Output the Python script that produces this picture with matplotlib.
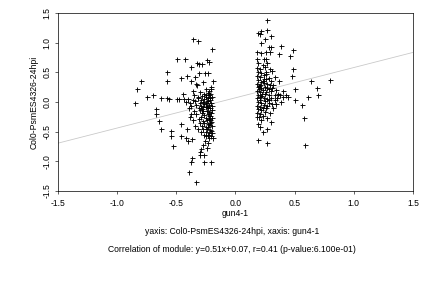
import numpy as np
import matplotlib
matplotlib.use("Agg")
import matplotlib.pyplot as plt

# =========================
# Data
# =========================
# sparse points around the left cluster (gun4-1, Col0-PsmES4326-24hpi)
left_sparse = [
    (-0.847, -0.01), (-0.83, 0.22), (-0.80, 0.36), (-0.746, 0.09), (-0.70, 0.125),
    (-0.667, -0.12), (-0.672, -0.20), (-0.644, -0.32), (-0.633, -0.45), (-0.627, 0.07),
    (-0.58, 0.07), (-0.58, 0.50), (-0.58, 0.35), (-0.565, 0.05), (-0.548, -0.49),
    (-0.548, -0.57), (-0.525, -0.74), (-0.497, 0.72), (-0.49, 0.045), (-0.475, 0.057),
    (-0.458, 0.40), (-0.463, -0.375), (-0.46, -0.57), (-0.44, 0.14), (-0.435, 0.045),
    (-0.424, 0.72), (-0.418, -0.60), (-0.41, -0.46), (-0.407, 0.43), (-0.40, -0.65),
    (-0.395, -1.18), (-0.378, 0.59), (-0.378, 0.36), (-0.373, -0.20), (-0.367, -0.63),
    (-0.362, 1.06), (-0.356, 0.19), (-0.378, -1.01), (-0.367, -0.94), (-0.345, 0.42),
    (-0.333, -1.35), (-0.328, 0.28), (-0.322, 0.65), (-0.316, 1.03), (-0.31, 0.49),
    (-0.305, 0.64), (-0.30, -0.90), (-0.294, -0.80), (-0.28, 0.64), (-0.277, 0.335),
    (-0.266, -1.01), (-0.266, -0.90), (-0.26, 0.48), (-0.254, -0.66), (-0.25, -0.57),
    (-0.243, 0.70), (-0.237, -0.77), (-0.232, 0.49), (-0.226, 0.68), (-0.22, -0.61),
    (-0.21, 0.25), (-0.203, -1.01), (-0.198, 0.90), (-0.198, -0.52), (-0.192, -0.61),
    (-0.186, 0.36), (-0.30, -0.85), (-0.27, -0.72), (-0.23, -0.70), (-0.33, 0.30),
]

# dense band of the left cluster
left_dense = [
    (-0.25, 0.21), (-0.22, 0.19), (-0.205, 0.22), (-0.30, 0.16), (-0.262, 0.14),
    (-0.232, 0.15), (-0.212, 0.13), (-0.35, 0.11), (-0.318, 0.09), (-0.283, 0.10),
    (-0.248, 0.08), (-0.222, 0.11), (-0.20, 0.09), (-0.40, 0.05), (-0.362, 0.04),
    (-0.313, 0.06), (-0.292, 0.03), (-0.262, 0.05), (-0.242, 0.02), (-0.213, 0.06),
    (-0.42, 0.00), (-0.382, -0.01), (-0.343, 0.01), (-0.302, -0.02), (-0.272, 0.00),
    (-0.252, -0.01), (-0.232, 0.01), (-0.208, -0.02), (-0.372, -0.06), (-0.332, -0.05),
    (-0.292, -0.07), (-0.262, -0.04), (-0.242, -0.06), (-0.222, -0.05), (-0.200, -0.07),
    (-0.392, -0.11), (-0.312, -0.10), (-0.282, -0.12), (-0.252, -0.09), (-0.232, -0.11),
    (-0.212, -0.10), (-0.352, -0.16), (-0.302, -0.14), (-0.272, -0.16), (-0.242, -0.15),
    (-0.222, -0.17), (-0.200, -0.14), (-0.332, -0.21), (-0.282, -0.19), (-0.262, -0.22),
    (-0.232, -0.20), (-0.212, -0.23), (-0.382, -0.26), (-0.292, -0.25), (-0.252, -0.27),
    (-0.222, -0.24), (-0.202, -0.27), (-0.362, -0.31), (-0.312, -0.29), (-0.272, -0.32),
    (-0.242, -0.30), (-0.212, -0.31), (-0.302, -0.36), (-0.262, -0.35), (-0.232, -0.37),
    (-0.210, -0.34), (-0.342, -0.41), (-0.282, -0.40), (-0.252, -0.42), (-0.222, -0.39),
    (-0.200, -0.41), (-0.272, -0.46), (-0.242, -0.45), (-0.212, -0.47), (-0.292, -0.51),
    (-0.252, -0.50), (-0.222, -0.52), (-0.262, -0.56), (-0.232, -0.55), (-0.210, -0.57),
    (-0.215, 0.03), (-0.225, -0.28), (-0.205, -0.19), (-0.235, -0.43), (-0.245, 0.12),
    (-0.275, -0.08), (-0.215, -0.36), (-0.228, 0.07), (-0.205, -0.49), (-0.32, -0.45),
]

# sparse points around the right cluster
right_sparse = [
    (0.264, 1.386), (0.19, 1.16), (0.22, 1.20), (0.264, 1.216), (0.205, 1.14),
    (0.25, 1.06), (0.30, 1.11), (0.216, 0.99), (0.28, 0.93), (0.30, 0.93),
    (0.386, 0.94), (0.483, 0.875), (0.18, 0.84), (0.216, 0.83), (0.256, 0.84),
    (0.295, 0.84), (0.37, 0.81), (0.46, 0.77), (0.18, 0.716), (0.244, 0.716),
    (0.26, 0.73), (0.49, 0.56), (0.477, 0.43), (0.64, 0.35), (0.795, 0.375),
    (0.69, 0.23), (0.506, 0.22), (0.70, 0.11), (0.61, 0.085), (0.506, 0.034),
    (0.56, -0.045), (0.58, -0.27), (0.59, -0.72), (0.19, -0.64), (0.27, -0.69),
    (0.19, -0.375), (0.21, -0.43), (0.233, -0.50), (0.267, -0.45), (0.30, -0.335),
    (0.18, -0.25), (0.40, 0.08), (0.426, 0.11), (0.386, 0.0), (0.44, 0.08),
    (0.40, 0.19), (0.37, 0.36), (0.335, 0.42), (0.31, 0.52), (0.34, 0.20),
    (0.36, 0.14), (0.33, 0.034), (0.31, -0.034), (0.32, -0.10), (0.295, -0.18),
]

# dense band of the right cluster
right_dense = [
    (0.19, 0.66), (0.23, 0.63), (0.27, 0.65), (0.18, 0.58), (0.21, 0.56),
    (0.25, 0.59), (0.29, 0.55), (0.19, 0.50), (0.22, 0.48), (0.26, 0.51),
    (0.18, 0.44), (0.21, 0.42), (0.24, 0.45), (0.28, 0.41), (0.19, 0.37),
    (0.23, 0.35), (0.26, 0.38), (0.30, 0.36), (0.18, 0.31), (0.21, 0.29),
    (0.24, 0.32), (0.27, 0.30), (0.32, 0.28), (0.19, 0.25), (0.22, 0.23),
    (0.25, 0.26), (0.28, 0.22), (0.18, 0.19), (0.21, 0.17), (0.235, 0.20),
    (0.26, 0.16), (0.30, 0.18), (0.19, 0.12), (0.22, 0.10), (0.25, 0.13),
    (0.28, 0.11), (0.33, 0.12), (0.18, 0.06), (0.21, 0.04), (0.24, 0.07),
    (0.27, 0.05), (0.30, 0.07), (0.19, 0.00), (0.22, -0.02), (0.25, 0.01),
    (0.28, -0.01), (0.18, -0.06), (0.21, -0.08), (0.24, -0.05), (0.27, -0.07),
    (0.19, -0.12), (0.22, -0.14), (0.26, -0.11), (0.18, -0.18), (0.21, -0.20),
    (0.25, -0.17), (0.20, -0.26), (0.23, -0.24), (0.27, -0.27), (0.22, -0.31),
    (0.195, 0.21), (0.205, 0.08), (0.215, 0.33), (0.23, -0.10), (0.245, 0.39),
    (0.20, 0.27), (0.225, 0.14), (0.265, 0.24), (0.285, 0.03), (0.29, 0.28),
    (0.35, 0.06), (0.38, 0.12), (0.31, 0.23), (0.34, -0.04), (0.26, 0.47),
]

slope, intercept = 0.51, 0.07
x_label = "gun4-1"
y_label = "Col0-PsmES4326-24hpi"
caption = ["yaxis: Col0-PsmES4326-24hpi, xaxis: gun4-1",
           "Correlation of module: y=0.51x+0.07, r=0.41 (p-value:6.100e-01)"]
ticks = [-1.5, -1.0, -0.5, 0.0, 0.5, 1.0, 1.5]

# =========================
# Plot
# =========================
plt.rcParams['font.family'] = ['Liberation Sans', 'DejaVu Sans']
plt.rcParams['axes.unicode_minus'] = False
FS = 8.6

points = np.array(left_sparse + left_dense + right_sparse + right_dense)

fig = plt.figure(figsize=(6, 4), dpi=72)
ax = fig.add_axes([0.134, 0.337, 0.822, 0.618])

line_x = np.array([-1.5, 1.5])
ax.plot(line_x, slope * line_x + intercept, color="#c8c8c8", lw=0.8, zorder=1)
ax.plot(points[:, 0], points[:, 1], '+', color='black', markersize=5,
        markeredgewidth=0.9, zorder=2)

ax.set_xlim(-1.5, 1.5)
ax.set_ylim(-1.5, 1.5)
ax.set_xticks(ticks)
ax.set_yticks(ticks)
ax.set_xticklabels([f"{t:.1f}" for t in ticks], fontsize=FS)
ax.set_yticklabels([f"{t:.1f}" for t in ticks], fontsize=FS,
                   rotation=90, va='center')
ax.tick_params(length=3, width=0.6)
ax.tick_params(axis='x', pad=5)
ax.tick_params(axis='y', pad=3)
for s in ax.spines.values():
    s.set_linewidth(0.7)

ax.set_xlabel(x_label, fontsize=FS, labelpad=1)
ax.set_ylabel(y_label, fontsize=FS, labelpad=4)

# captions are centred under the plot box, not the figure
cx = 232 / 432
fig.text(cx, 1 - 231 / 288, caption[0], ha='center', va='center', fontsize=FS)
fig.text(cx, 1 - 250 / 288, caption[1], ha='center', va='center', fontsize=FS)

fig.savefig("out.png", dpi=72)
